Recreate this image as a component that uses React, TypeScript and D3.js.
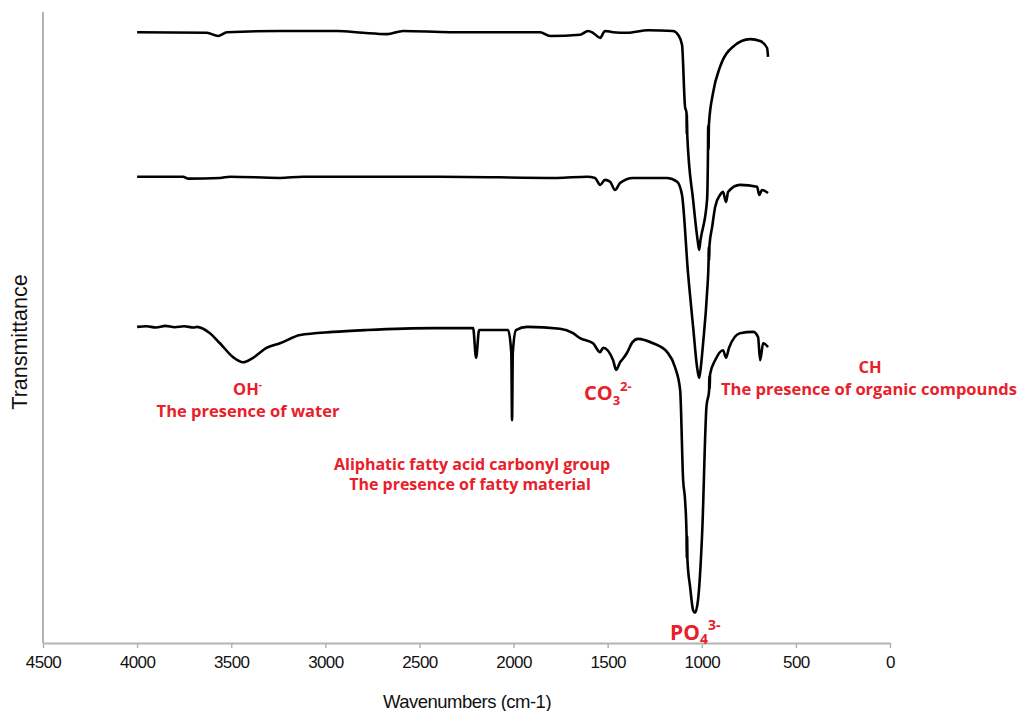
import React, { useRef, useEffect } from "react";
import * as d3 from "d3";

// [wavenumber (cm-1), transmittance (arb. units)]
const topSpectrum: [number, number][] = [
  [4000, 96.8], [3629, 96.7], [3570, 96.2], [3522, 96.8], [3241, 97.0], [2938, 97.0],
  [2800, 96.7], [2672, 96.5], [2587, 97.0], [2337, 96.8], [1859, 96.8], [1806, 96.2],
  [1647, 96.4], [1604, 97.0], [1578, 96.7], [1540, 95.9], [1514, 97.0], [1471, 96.8],
  [1397, 96.7], [1285, 97.1], [1153, 97.0], [1126, 96.4], [1105, 94.8], [1089, 85.0],
  [1081, 84.0], [1080, 80.6], [1079, 83.8], [1077, 80.4], [1046, 70.2], [1022, 63.8],
  [1014, 62.3], [1007, 63.8], [972, 70.2], [967, 78.0], [966, 82.0], [964, 78.2],
  [962, 82.2], [940, 87.2], [903, 91.3], [834, 94.5], [743, 95.7], [690, 95.4],
  [653, 94.3], [648, 92.9],
];

const middleSpectrum: [number, number][] = [
  [4000, 73.9], [3756, 73.9], [3730, 73.6], [3560, 73.7], [3506, 73.9], [3241, 73.7],
  [3118, 73.9], [2390, 73.9], [1769, 73.7], [1609, 73.9], [1567, 73.7], [1540, 72.6],
  [1514, 73.4], [1487, 73.1], [1461, 71.8], [1434, 72.9], [1365, 73.7], [1184, 73.7],
  [1131, 73.1], [1105, 71.0], [1073, 58.6], [1046, 50.1], [1025, 43.7], [1014, 42.0],
  [1004, 44.0], [993, 47.5], [972, 55.5], [964, 60.4], [963, 62.8], [961, 60.6],
  [959, 63.0], [945, 65.9], [929, 69.1], [903, 71.0], [887, 71.5], [871, 69.9],
  [860, 71.5], [797, 72.6], [706, 72.3], [695, 71.0], [680, 71.8], [648, 71.3],
];

const bottomSpectrum: [number, number][] = [
  [4000, 50.1], [3950, 50.2], [3900, 50.0], [3850, 50.25], [3800, 50.05], [3750, 50.2],
  [3700, 50.0], [3682, 50.1], [3613, 49.1], [3560, 47.5], [3490, 45.3], [3437, 44.5],
  [3384, 45.2], [3310, 46.8], [3241, 47.5], [3134, 48.8], [2959, 49.3], [2778, 49.6],
  [2428, 49.9], [2215, 49.9], [2199, 45.2], [2183, 49.6], [2029, 49.6], [2012, 46.0],
  [2008, 35.3], [2004, 46.0], [1987, 49.6], [1928, 50.1], [1753, 49.8], [1684, 49.1],
  [1647, 48.3], [1578, 47.5], [1540, 46.1], [1524, 46.8], [1471, 44.8], [1455, 43.3],
  [1434, 44.5], [1420, 45.0], [1397, 46.0], [1370, 47.6], [1339, 48.2], [1259, 47.5],
  [1184, 46.1], [1142, 43.7], [1115, 40.1], [1099, 25.8], [1089, 22.7], [1081, 17.2],
  [1080, 13.4], [1078, 17.0], [1076, 13.1], [1062, 8.9], [1046, 5.2], [1036, 4.8],
  [1020, 6.8], [998, 17.4], [975, 37.5], [961, 40.0], [960, 42.3], [958, 40.2],
  [956, 42.6], [929, 44.8], [887, 46.4], [871, 45.2], [855, 46.8], [797, 49.1],
  [727, 49.3], [701, 48.5], [690, 44.8], [674, 47.5], [648, 46.9],
];

const xTicks = [4500, 4000, 3500, 3000, 2500, 2000, 1500, 1000, 500, 0];

const RED = "#e8202a";
const LABEL_FONT = "'Open Sans', 'Noto Sans', sans-serif";
const AXIS_FONT = "'Liberation Sans', Arial, sans-serif";

export default function App() {
  const svgRef = useRef<SVGSVGElement>(null);
  const width = 1025;
  const height = 711;

  useEffect(() => {
    if (!svgRef.current) return;
    const svg = d3.select(svgRef.current);
    svg.selectAll("*").remove();

    const x = d3.scaleLinear().domain([4500, 0]).range([43, 890]);
    const y = d3.scaleLinear().domain([0, 100]).range([643, 12]);

    // y axis: bare spine
    svg.append("line")
      .attr("x1", 43).attr("x2", 43)
      .attr("y1", y(100)).attr("y2", y(0))
      .attr("stroke", "#b3b3b3")
      .attr("stroke-width", 2);

    // x axis
    const xAxis = svg.append("g")
      .attr("transform", `translate(0,${y(0)})`)
      .call(
        d3.axisBottom(x)
          .tickValues(xTicks)
          .tickFormat(d3.format("d"))
          .tickSize(5)
          .tickSizeOuter(0)
          .tickPadding(8)
      );
    xAxis.select(".domain").attr("stroke", "#b3b3b3").attr("stroke-width", 2);
    xAxis.selectAll(".tick line").attr("stroke", "#b3b3b3").attr("stroke-width", 1.5);
    xAxis.selectAll(".tick text")
      .attr("fill", "#111")
      .attr("font-family", AXIS_FONT)
      .attr("font-size", 17)
      .attr("letter-spacing", "-0.6px");

    svg.append("text")
      .attr("x", 467).attr("y", 708)
      .attr("text-anchor", "middle")
      .attr("font-family", AXIS_FONT)
      .attr("font-size", 18.5)
      .attr("letter-spacing", "-0.5px")
      .attr("fill", "#111")
      .text("Wavenumbers (cm-1)");

    svg.append("text")
      .attr("transform", "translate(27,342) rotate(-90)")
      .attr("text-anchor", "middle")
      .attr("font-family", AXIS_FONT)
      .attr("font-size", 21.5)
      .attr("fill", "#111")
      .text("Transmittance");

    // spectra
    const line = d3.line<[number, number]>()
      .x((d) => x(d[0]))
      .y((d) => y(d[1]))
      .curve(d3.curveMonotoneX);

    [topSpectrum, middleSpectrum, bottomSpectrum].forEach((s) => {
      svg.append("path")
        .attr("d", line(s))
        .attr("fill", "none")
        .attr("stroke", "#000")
        .attr("stroke-width", 2.6)
        .attr("stroke-linejoin", "round");
    });

    // annotations
    const label = (px: number, py: number, size: number, anchor = "middle") =>
      svg.append("text")
        .attr("x", px).attr("y", py)
        .attr("text-anchor", anchor)
        .attr("font-family", LABEL_FONT)
        .attr("font-weight", 700)
        .attr("font-size", size)
        .attr("fill", RED);

    const oh = label(233, 395, 16.5, "start");
    oh.append("tspan").text("OH");
    oh.append("tspan").attr("dy", -7).attr("font-size", 10).text("-");
    label(248, 417, 16.5).text("The presence of water");

    const co = label(584, 400, 20, "start");
    co.append("tspan").text("CO");
    co.append("tspan").attr("dy", 5).attr("font-size", 13).text("3");
    co.append("tspan").attr("dy", -14).attr("font-size", 13).text("2-");

    label(472, 470, 16).text("Aliphatic fatty acid carbonyl group");
    label(470, 490, 16).text("The presence of fatty material");

    const po = label(670, 640, 21, "start");
    po.append("tspan").text("PO");
    po.append("tspan").attr("dy", 4).attr("font-size", 14).text("4");
    po.append("tspan").attr("dy", -14).attr("font-size", 14).text("3-");

    label(870, 373, 16.5).text("CH");
    label(869, 395, 16.5).text("The presence of organic compounds");
  }, []);

  return (
    <svg
      ref={svgRef}
      width={width}
      height={height}
      style={{ position: "absolute", left: 0, top: 0, background: "#fff" }}
    />
  );
}
